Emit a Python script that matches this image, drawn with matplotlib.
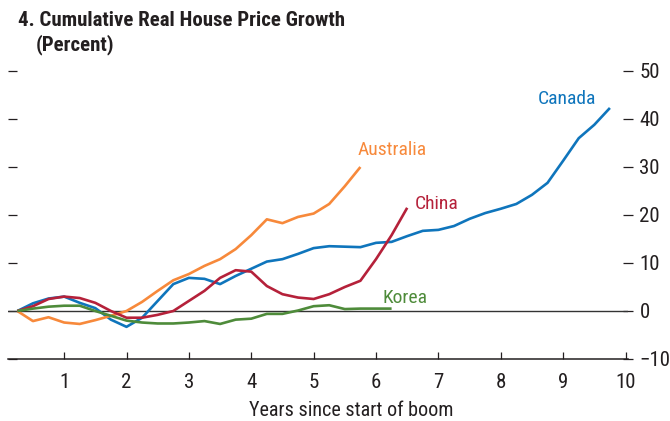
import numpy as np
import matplotlib
matplotlib.use('Agg')
import matplotlib.pyplot as plt
from matplotlib import font_manager
from matplotlib.lines import TICKRIGHT

names = {f.name for f in font_manager.fontManager.ttflist}
narrow = [n for n in ['Roboto Condensed', 'Liberation Sans Narrow', 'Open Sans Condensed', 'Roboto']
          if n in names]
plt.rcParams['font.family'] = narrow[:1] + ['DejaVu Sans']

# quarterly index: years since start of boom
canada = [0, 1.6, 2.6, 3.0, 1.7, 0.6, -1.8, -3.3, -1.4, 2.1, 5.6, 6.9, 6.7, 5.6, 7.3,
          8.8, 10.3, 10.8, 11.9, 13.1, 13.5, 13.4, 13.3, 14.2, 14.4, 15.6, 16.7, 16.9,
          17.7, 19.2, 20.4, 21.3, 22.3, 24.2, 26.7, 31.3, 36.0, 38.8, 42.3]
australia = [0, -2.1, -1.3, -2.4, -2.7, -1.9, -1.0, 0, 1.9, 4.2, 6.4, 7.7, 9.4, 10.8,
             12.9, 15.8, 19.1, 18.3, 19.6, 20.3, 22.3, 26.0, 30.0]
china = [0, 1.0, 2.5, 3.0, 2.7, 1.7, 0, -1.4, -1.4, -0.8, 0, 2.1, 4.2, 6.9, 8.5, 8.2,
         5.2, 3.5, 2.8, 2.5, 3.5, 5.0, 6.3, 10.8, 15.8, 21.5]
korea = [0, 0.5, 0.9, 1.1, 1.1, 0, -1.0, -2.0, -2.4, -2.6, -2.6, -2.4, -2.1, -2.7, -1.8,
         -1.6, -0.6, -0.6, 0.1, 1.0, 1.2, 0.4, 0.5, 0.5, 0.5]

series = [('Canada', canada, '#0F75BC', 8.6, 44.2),
          ('Australia', australia, '#F7893B', 5.7, 33.5),
          ('China', china, '#B5213A', 6.62, 22.2),
          ('Korea', korea, '#4E8B3A', 6.1, 2.7)]

txt = '#231F20'
fig = plt.figure(figsize=(6.7, 4.21), dpi=100)
ax = fig.add_axes([8/670, 1-359/421, 620/670, 288/421])

for name, vals, col, lx, ly in series:
    x = np.arange(1, len(vals)+1) / 4
    ax.plot(x, vals, color=col, lw=1.9, solid_capstyle='butt', zorder=3)
    ax.text(lx, ly, name, color=col, fontsize=14, va='center', ha='left')

ax.axhline(0, color='#333333', lw=1.0, zorder=2)
ax.set_xlim(0.1, 10.04)
ax.set_ylim(-10, 50)
ax.set_xticks(range(1, 11))
ax.set_yticks(range(-10, 51, 10))
for s in ['top', 'left', 'right']:
    ax.spines[s].set_visible(False)
ax.spines['bottom'].set_color(txt)
ax.spines['bottom'].set_linewidth(1.1)

ax.tick_params(axis='x', direction='in', length=5, width=0.9, color=txt,
               labelsize=15, labelcolor=txt, pad=10)
ax.tick_params(axis='y', left=True, right=True, labelleft=False, labelright=True,
               direction='inout', length=6.5, width=0.9, color=txt,
               labelsize=15, labelcolor=txt, pad=5)
# left-hand dashes point into the plot
for t in ax.yaxis.get_major_ticks():
    t.tick1line.set_marker(TICKRIGHT)
    t.tick1line.set_markersize(6.5)
ax.set_xlabel('Years since start of boom', fontsize=14.5, color=txt)
ax.xaxis.label.set_va('center')
ax.xaxis.set_label_coords((351-8)/620, -(411-359)/288)

fig.text(18/670, 1-20/421, '4. Cumulative Real House Price Growth', fontsize=15,
         fontweight='bold', color=txt, va='center', ha='left')
fig.text(36/670, 1-45/421, '(Percent)', fontsize=15, fontweight='bold',
         color=txt, va='center', ha='left')

fig.savefig('out.png', dpi=100)
